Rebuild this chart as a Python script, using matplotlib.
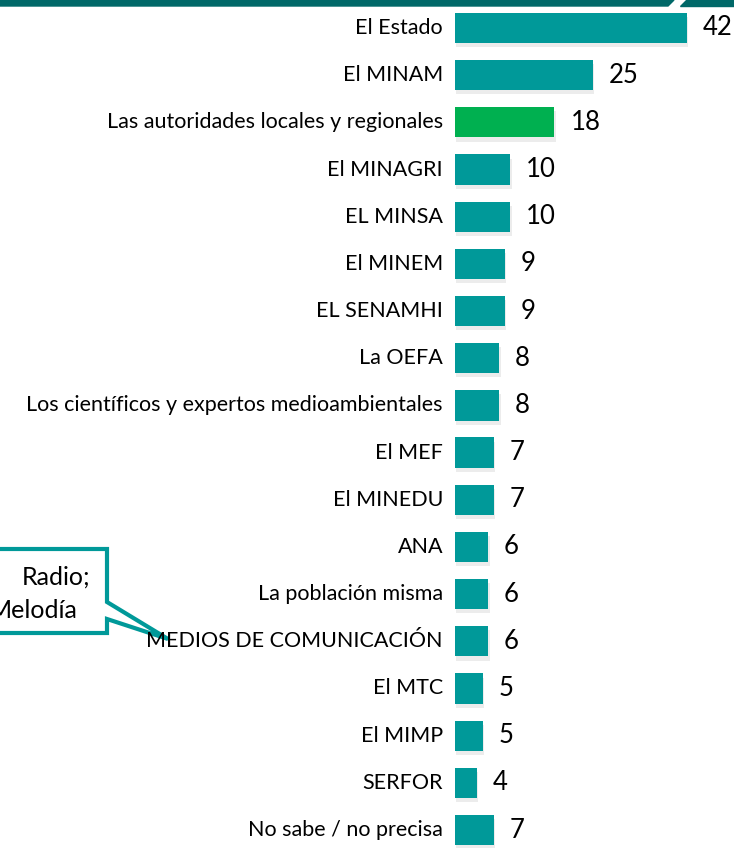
import numpy as np
import matplotlib
matplotlib.use("Agg")
import matplotlib.pyplot as plt
import matplotlib.patheffects as pe
from matplotlib.patches import Polygon

plt.rcParams['font.family'] = ['Lato', 'DejaVu Sans']

# data, top to bottom
categories = ["El Estado", "El MINAM", "Las autoridades locales y regionales",
              "El MINAGRI", "EL MINSA", "El MINEM", "EL SENAMHI", "La OEFA",
              "Los científicos y expertos medioambientales", "El MEF",
              "El MINEDU", "ANA", "La población misma",
              "MEDIOS DE COMUNICACIÓN", "El MTC", "El MIMP", "SERFOR",
              "No sabe / no precisa"]
values = [42, 25, 18, 10, 10, 9, 9, 8, 8, 7, 7, 6, 6, 6, 5, 5, 4, 7]
highlight = "Las autoridades locales y regionales"

teal = "#009999"
green = "#00B050"
dark = "#006868"

W, H = 734, 848
fig = plt.figure(figsize=(W / 100, H / 100), dpi=100)

row = 47.2
ax = fig.add_axes([455 / W, 0, 279 / W, 1])
n = len(categories)
y = np.arange(n)
colors = [green if c == highlight else teal for c in categories]
bars = ax.barh(y, values, height=0.64, color=colors)
for b in bars:
    b.set_path_effects([pe.SimplePatchShadow(offset=(1, -3), alpha=0.15,
                                             shadow_rgbFace='gray'), pe.Normal()])
ax.set_xlim(0, 279 / 5.52)
ax.set_ylim(n - 1 + (H - 830) / row, -28 / row)
ax.axis('off')

for i, (c, v) in enumerate(zip(categories, values)):
    ax.annotate(c, (0, i), xytext=(-12, 0), textcoords='offset pixels',
                ha='right', va='center', fontsize=15.5, annotation_clip=False)
    ax.annotate(str(v), (v, i), xytext=(16, 0), textcoords='offset pixels',
                ha='left', va='center', fontsize=18.5, annotation_clip=False)

# top banner with slanted cut
top = fig.add_axes([0, 0, 1, 1], zorder=-1)
top.set_xlim(0, W)
top.set_ylim(H, 0)
top.axis('off')
top.add_patch(Polygon([(0, 0), (674, 0), (668, 6), (0, 6)], color=dark))
top.add_patch(Polygon([(686, 0), (W, 0), (W, 6), (680, 6)], color=dark))

# callout box
callout = [(-10, 549), (107, 549), (107, 602), (168, 639), (107, 619),
           (107, 633), (-10, 633)]
top.add_patch(Polygon(callout, closed=True, fill=True, facecolor='white',
                      edgecolor=teal, lw=3, zorder=3))
top.text(90, 577, "Radio;", ha='right', va='center', fontsize=18, zorder=4)
top.text(78, 610, "Melodía", ha='right', va='center', fontsize=18, zorder=4)

fig.savefig("out.png", dpi=100)
